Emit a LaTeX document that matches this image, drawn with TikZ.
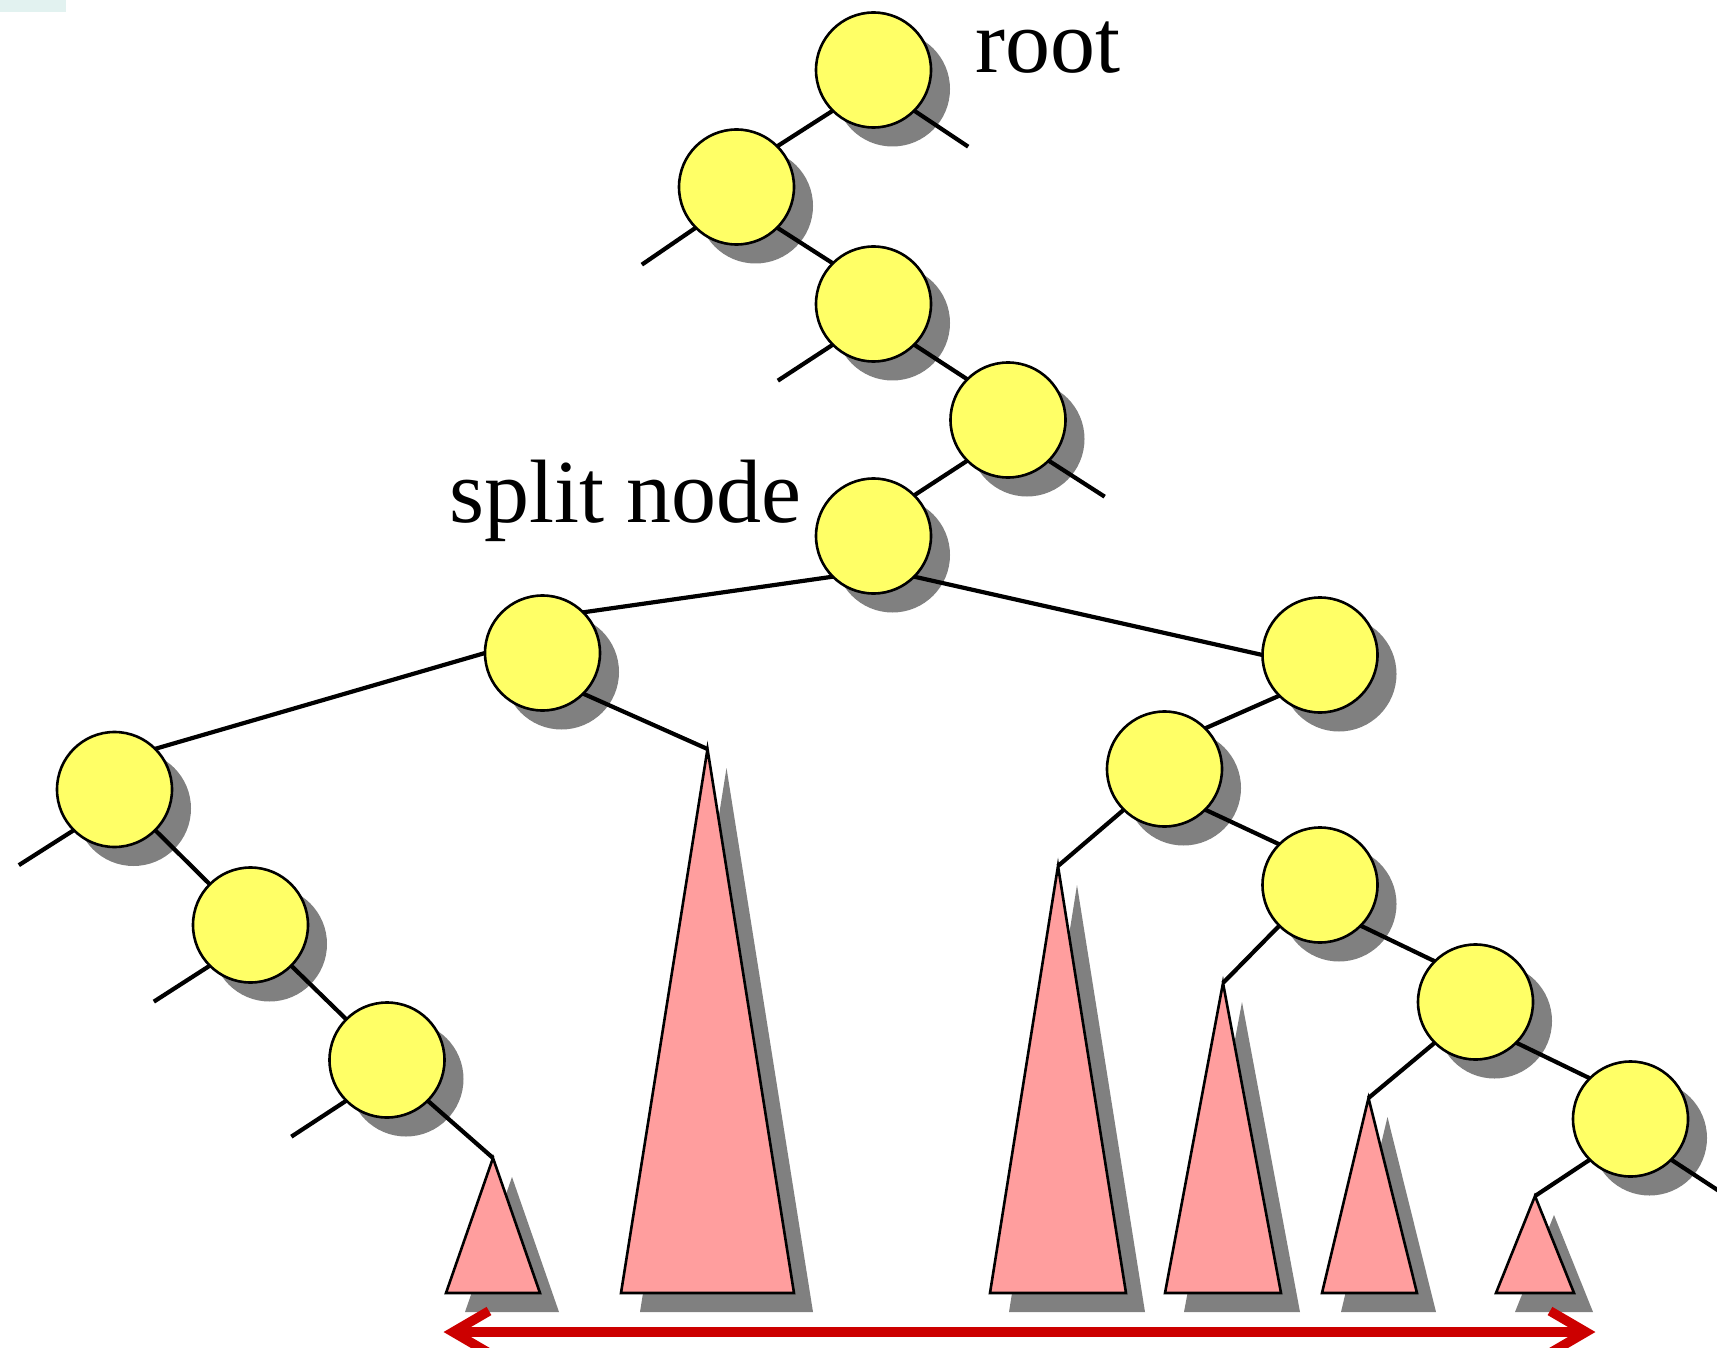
\documentclass[tikz,border=0pt]{standalone}
\usepackage{fontspec}
\setmainfont{Liberation Serif}
\pgfdeclarelayer{bglayer}
\pgfdeclarelayer{shadowlayer}
\pgfdeclarelayer{front}
\pgfsetlayers{bglayer,shadowlayer,main,front}
\definecolor{nodeyellow}{RGB}{255,255,102}
\definecolor{treepink}{RGB}{255,158,158}
\definecolor{shadegray}{RGB}{128,128,128}
\definecolor{arrowred}{RGB}{204,0,0}
\definecolor{faintcyan}{RGB}{226,242,240}
\tikzset{
  tnode/.style={circle, draw=black, line width=2.6pt, fill=nodeyellow, minimum size=115pt, inner sep=0pt, outer sep=0pt},
  edge/.style={draw=black, line width=4.2pt},
  subtree/.style={draw=black, line width=2.6pt, fill=treepink, line join=miter},
  shade/.style={fill=shadegray},
  redarrow/.style={draw=arrowred, line width=9.5pt, line join=miter},
  lbl/.style={font=\fontsize{90}{100}\selectfont, inner sep=0pt}
}
\begin{document}
\begin{tikzpicture}[x=1pt,y=-1pt]
\clip (0,0) rectangle (1717,1348);
\begin{pgfonlayer}{bglayer}
\fill[white] (0,0) rectangle (1717,1348);
\fill[faintcyan] (0,0) rectangle (66,12);
\end{pgfonlayer}

% tree nodes (front layer)
\begin{pgfonlayer}{front}
\node[tnode] (root)  at (873.5,70) {};
\node[tnode] (n1)    at (736.5,187) {};
\node[tnode] (n2)    at (873.5,304) {};
\node[tnode] (n3)    at (1008,420) {};
\node[tnode] (split) at (873.5,536) {};
\node[tnode] (L)     at (542.5,653) {};
\node[tnode] (R)     at (1320,655) {};
\node[tnode] (LL)    at (114.5,789.5) {};
\node[tnode] (LLb)   at (250.5,925) {};
\node[tnode] (LLc)   at (387,1060) {};
\node[tnode] (Ra)    at (1164.5,769) {};
\node[tnode] (Rb)    at (1320,885) {};
\node[tnode] (Rc)    at (1475.5,1002) {};
\node[tnode] (Rd)    at (1630.5,1119) {};
\end{pgfonlayer}

% circle shadows
\begin{pgfonlayer}{shadowlayer}
\foreach \c in {root,n1,n2,n3,split,L,R,LL,LLb,LLc,Ra,Rb,Rc,Rd}
  \fill[shade] ([shift={(19,19)}]\c.center) circle (57.5pt);
\end{pgfonlayer}

% apex coordinates of subtrees
\coordinate (t1) at (493,1158);
\coordinate (t2) at (707.5,749);
\coordinate (t3) at (1058,866);
\coordinate (t4) at (1223,983);
\coordinate (t5) at (1368.5,1098);
\coordinate (t6) at (1535,1196);

% subtree triangles with shadows
\begin{pgfonlayer}{shadowlayer}
\foreach \ax/\ay/\bl/\br in {493/1158/446/540, 707.5/749/621/794, 1058/866/990/1126, 1223/983/1165/1281, 1368.5/1098/1322/1417, 1535/1196/1496/1574}
  \fill[shade] (\ax+19,\ay+19) -- (\br+19,1312) -- (\bl+19,1312) -- cycle;
\end{pgfonlayer}
\foreach \ax/\ay/\bl/\br in {493/1158/446/540, 707.5/749/621/794, 1058/866/990/1126, 1223/983/1165/1281, 1368.5/1098/1322/1417, 1535/1196/1496/1574}
  \path[subtree] (\ax,\ay) -- (\br,1293) -- (\bl,1293) -- cycle;

% edges (child pointers)
\draw[edge] (root.south west) -- (n1.north east);
\draw[edge] (n1.south east) -- (n2.north west);
\draw[edge] (n2.south east) -- (n3.north west);
\draw[edge] (n3.south west) -- (split.north east);
\draw[edge] (split.south west) -- (L.north east);
\draw[edge] (split.south east) -- (R.west);
\draw[edge] (L.west) -- (LL.north east);
\draw[edge] (L.south east) -- (t2);
\draw[edge] (LL.south east) -- (LLb.north west);
\draw[edge] (LLb.south east) -- (LLc.north west);
\draw[edge] (LLc.south east) -- (t1);
\draw[edge] (R.south west) -- (Ra.north east);
\draw[edge] (Ra.south west) -- (t3);
\draw[edge] (Ra.south east) -- (Rb.north west);
\draw[edge] (Rb.south west) -- (t4);
\draw[edge] (Rb.south east) -- (Rc.north west);
\draw[edge] (Rc.south west) -- (t5);
\draw[edge] (Rc.south east) -- (Rd.north west);
\draw[edge] (Rd.south west) -- (t6);

% empty-child stubs
\draw[edge] (root.south east) -- ++(54,36);
\draw[edge] (n1.south west) -- ++(-54,37);
\draw[edge] (n2.south west) -- ++(-55,36);
\draw[edge] (n3.south east) -- ++(56,36);
\draw[edge] (LL.south west) -- ++(-55,35);
\draw[edge] (LLb.south west) -- ++(-56,36);
\draw[edge] (LLc.south west) -- ++(-55,36);
\draw[edge] (Rd.south east) -- ++(55,36);

% labels
\node[lbl, anchor=base west] (rootlbl) at (975,73) {root};
\node[lbl, anchor=base west] (splitlbl) at (449,522) {split node};

% range arrow
\coordinate (al) at (453,1332);
\coordinate (ar) at (1586,1332);
\draw[redarrow] (al) -- (ar);
\draw[redarrow] (al) ++(36,-21) -- (al) -- ++(36,21);
\draw[redarrow] (ar) ++(-36,-21) -- (ar) -- ++(-36,21);
\end{tikzpicture}
\end{document}
